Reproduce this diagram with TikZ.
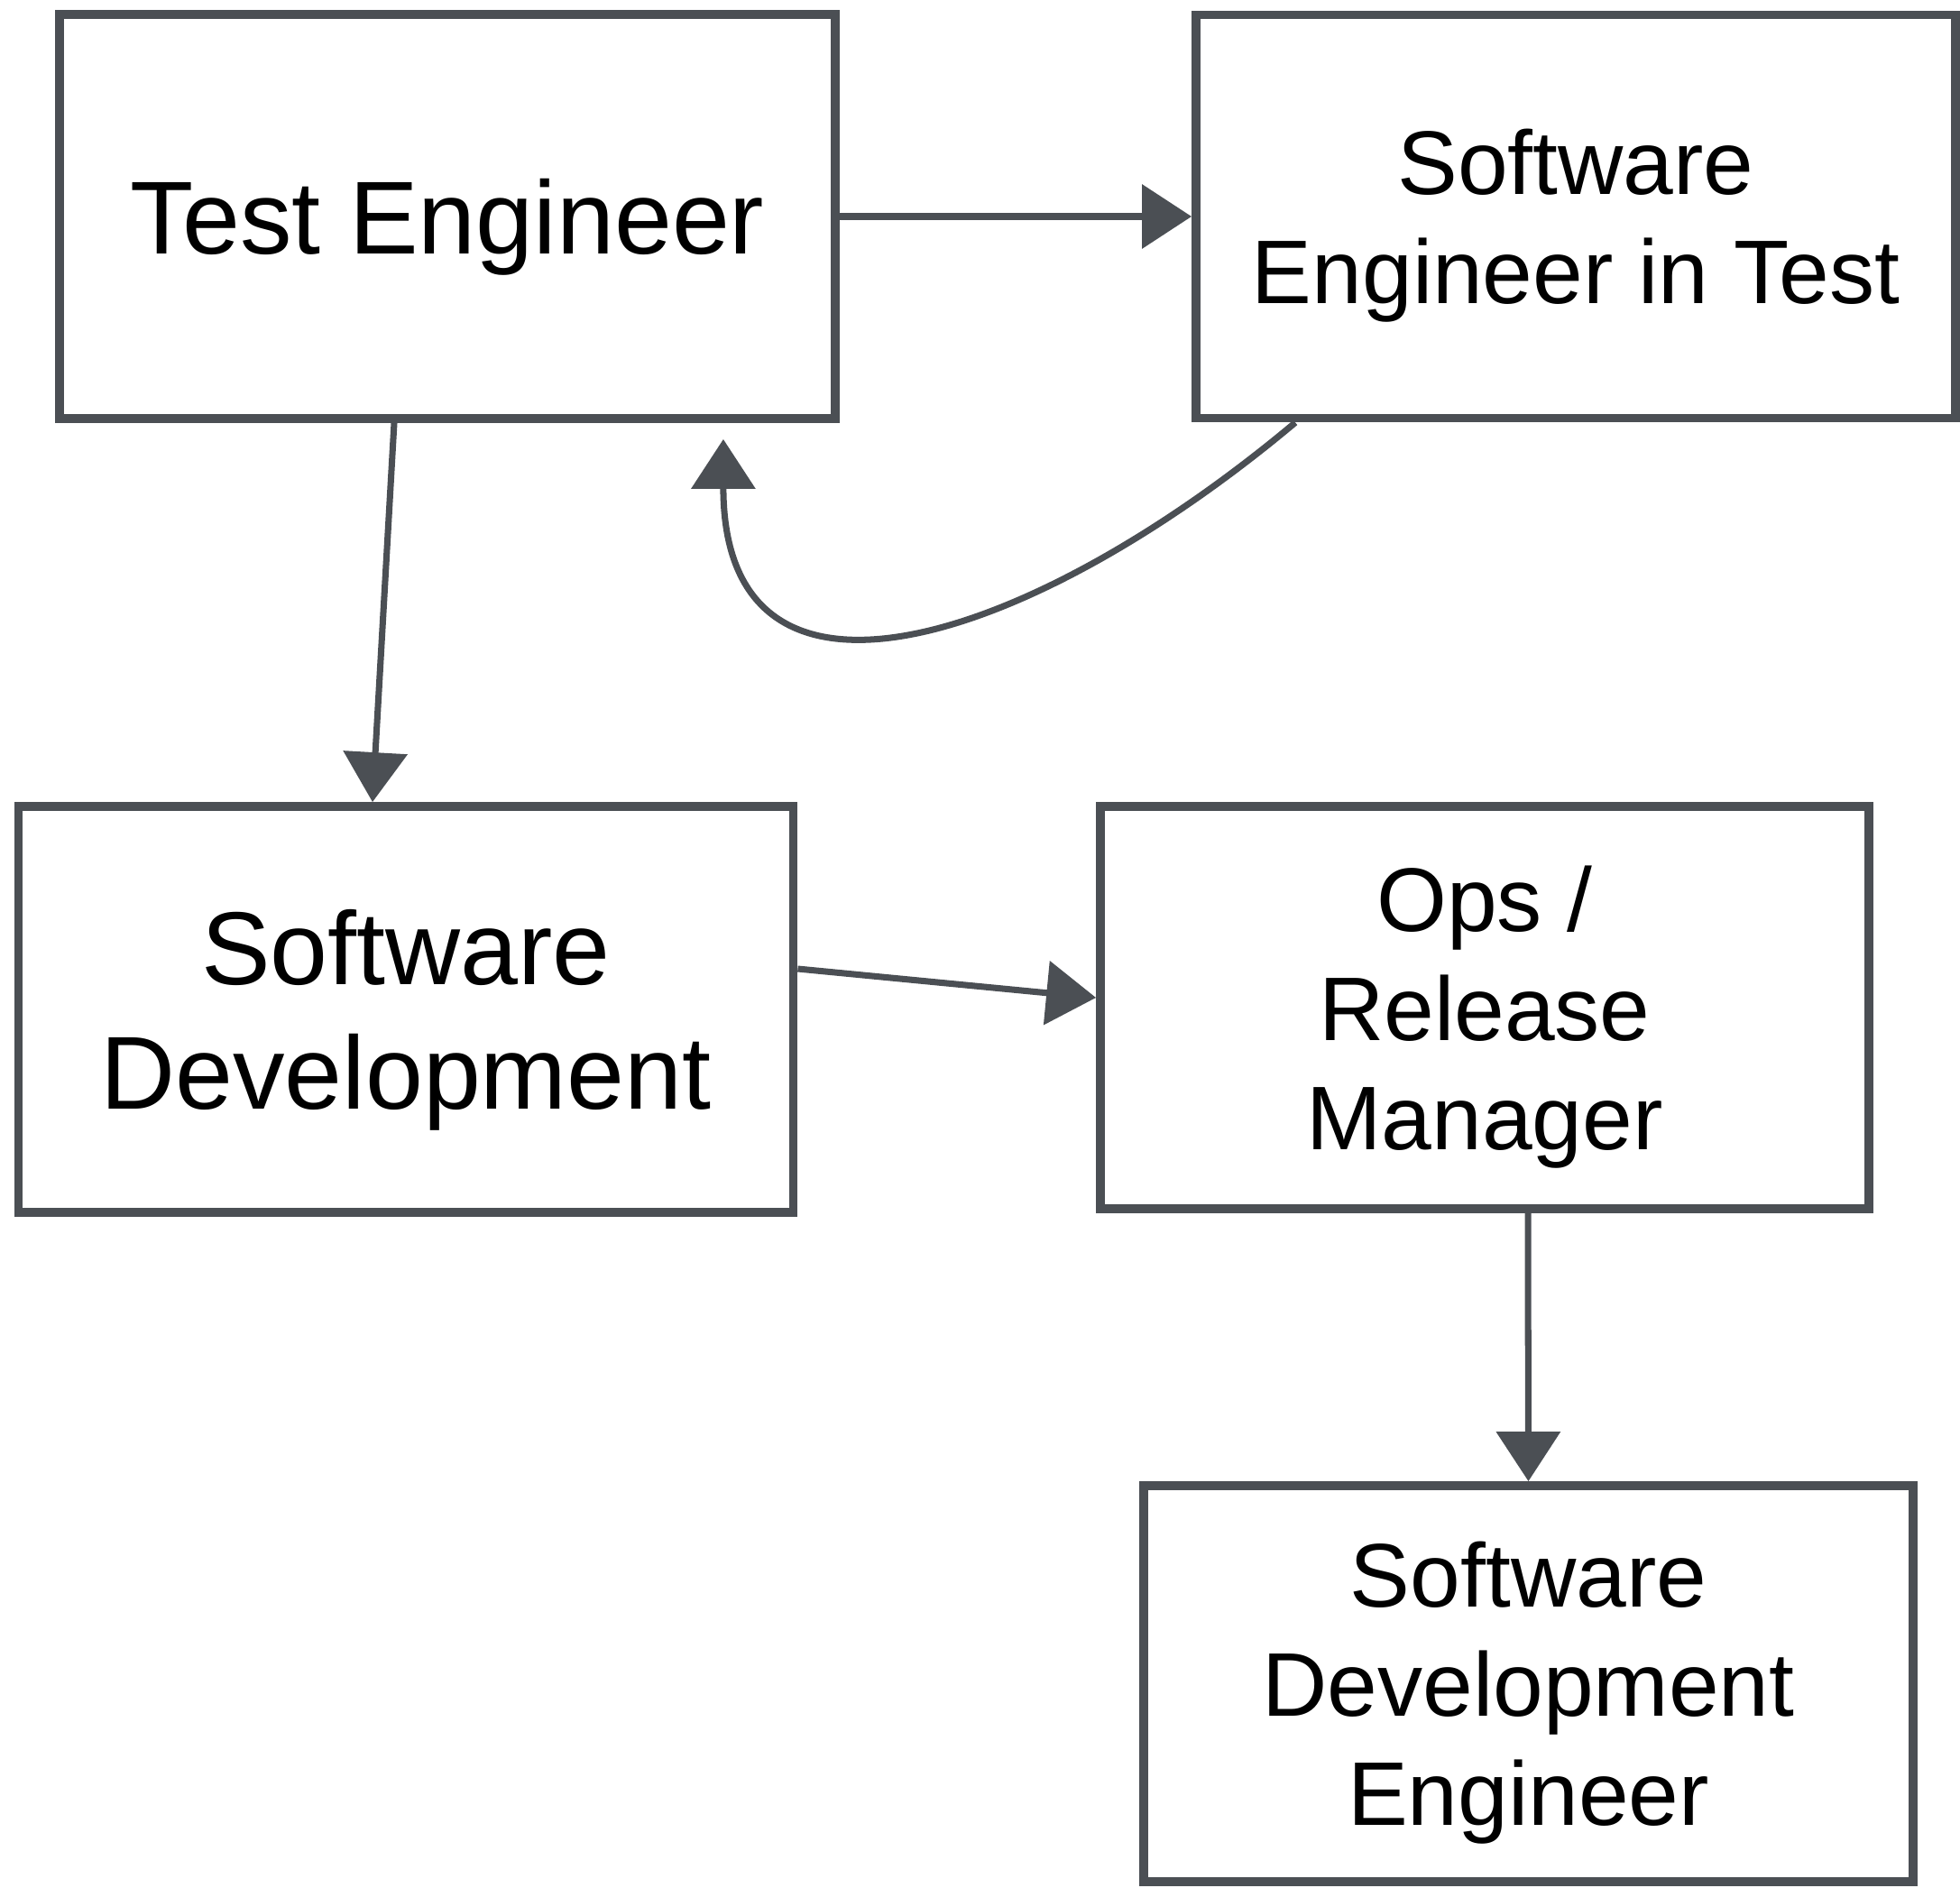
\documentclass[tikz,border=0pt]{standalone}
\usepackage{fontspec}
\setmainfont{Liberation Sans}
\usetikzlibrary{arrows.meta}
\definecolor{pencil}{RGB}{75,79,84}

\begin{document}
\begin{tikzpicture}[
    role/.style={draw=pencil, line width=2.8pt, fill=white, align=center, inner sep=0pt, text depth=-2pt},
    bigrole/.style={role, font=\fontsize{32.7}{39.3}\selectfont},
    smallrole/.style={role, font=\fontsize{28.5}{34.4}\selectfont},
    flow/.style={draw=pencil, line width=2pt, -{Triangle[length=0.55cm, width=0.7cm]}}
]
    \useasboundingbox (0,0) rectangle (21.73,-20.92);

    \node[bigrole, minimum width=8.60cm, minimum height=4.48cm] at (4.96,-2.40) (TE) {Test Engineer};
    \node[smallrole, minimum width=8.42cm, minimum height=4.47cm] at (17.47,-2.40) (SEiT) {Software\\Engineer in Test};
    \node[bigrole, minimum width=8.59cm, minimum height=4.50cm] at (4.50,-11.19) (SD) {Software\\Development};
    \node[smallrole, minimum width=8.52cm, minimum height=4.46cm] at (16.46,-11.17) (Ops) {Ops /\\Release\\Manager};
    \node[smallrole, minimum width=8.53cm, minimum height=4.39cm] at (16.945,-18.665) (SDE) {Software\\Development\\Engineer};

    \coordinate (loopstart) at ([xshift=1.15cm]SEiT.south west);
    \coordinate (loopend) at ([xshift=-1.29cm, yshift=-0.18cm]TE.south east);

    \draw[flow] (TE.east) -- (SEiT.west);
    \draw[flow] (loopstart) .. controls +(220:3.8) and +(270:3.4) .. (loopend);
    \draw[flow] ([xshift=-0.59cm]TE.south) -- ([xshift=-0.37cm]SD.north);
    \draw[flow] ([yshift=0.45cm]SD.east) -- ([yshift=0.11cm]Ops.west);
    \draw[flow] ([xshift=0.48cm]Ops.south) -- (SDE.north);
\end{tikzpicture}
\end{document}
